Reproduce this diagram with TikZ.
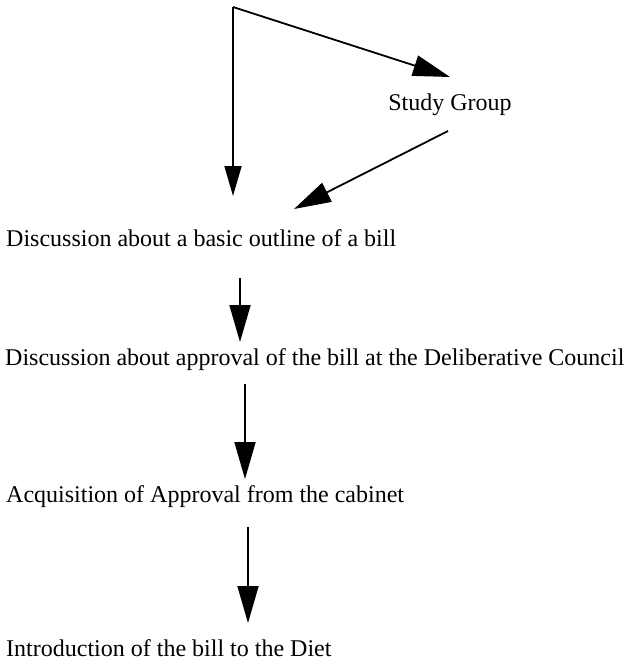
\documentclass[tikz,border=0pt]{standalone}
\usepackage{fontspec}
\setmainfont{Liberation Serif}
\usetikzlibrary{arrows.meta}
\begin{document}
\begin{tikzpicture}[x=1pt,y=-1pt,
  lbl/.style={inner sep=0pt,anchor=base west,font=\fontsize{24}{28}\selectfont},
  conn/.style={line width=1.8pt,-{Triangle[length=37pt,width=21pt]}}]
\useasboundingbox (0,0) rectangle (627,661);
\coordinate (corner) at (233,7);
\node[lbl,anchor=base] (sg) at (450,110) {Study Group};
\node[lbl] (t1) at (6,246) {Discussion about a basic outline of a bill};
\node[lbl] (t2) at (5,365) {Discussion about approval of the bill at the Deliberative Council};
\node[lbl] (t3) at (6,502) {Acquisition of Approval from the cabinet};
\node[lbl] (t4) at (6,656) {Introduction of the bill to the Diet};
\coordinate (vt) at (233,196);
\coordinate (sgin) at (450,77);
\coordinate (sgout) at (448,131);
\coordinate (t1in) at (294,209);
\coordinate (a2s) at (240,278);
\coordinate (a2e) at (240,342);
\coordinate (a3s) at (245,384);
\coordinate (a3e) at (245,479);
\coordinate (a4s) at (248,527);
\coordinate (a4e) at (248,623);
\draw[conn,-{Triangle[length=30pt,width=17pt]}] (corner) -- (vt);
\draw[conn] (corner) -- (sgin);
\draw[conn] (sgout) -- (t1in);
\draw[conn] (a2s) -- (a2e);
\draw[conn] (a3s) -- (a3e);
\draw[conn] (a4s) -- (a4e);
\end{tikzpicture}
\end{document}
